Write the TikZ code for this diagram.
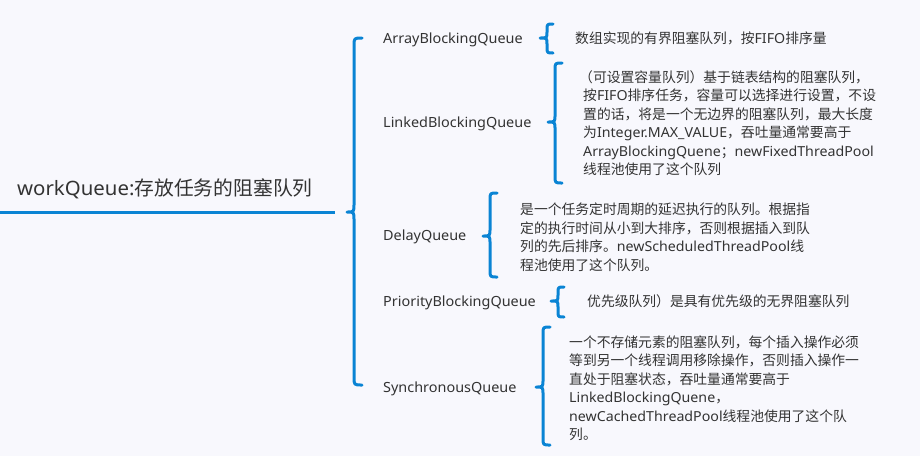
\documentclass[tikz,border=0pt]{standalone}
\usepackage{fontspec}
\setmainfont{Noto Sans CJK SC}
\newfontfamily\lat[FakeStretch=1.03]{Noto Sans}
\usetikzlibrary{calc}
\definecolor{bg}{HTML}{F8F8FD}
\definecolor{blu}{HTML}{0A84D4}
\definecolor{txt}{HTML}{333333}
\newcommand\qbrace[5]{%
  \draw[br] (#1+#5,#2) .. controls (#1,#2) .. (#1,#2+#5) -- (#1,#3-#5)
    .. controls (#1,#3) .. (#1-7,#3) .. controls (#1,#3) .. (#1,#3+#5)
    -- (#1,#4-#5) .. controls (#1,#4) .. (#1+#5,#4);}
\newcommand\lt[1]{{\lat #1}}
\tikzset{
  br/.style={draw=blu, line width=3pt, line cap=round, line join=round},
  lbl/.style={anchor=west, inner sep=0pt, text=txt, font=\lat\fontsize{14}{16}\selectfont},
  desc/.style={anchor=west, inner sep=0pt, text=txt, align=left, font=\fontsize{13.8}{18.5}\selectfont},
  ttl/.style={anchor=west, inner sep=0pt, text=txt, font=\fontsize{19.8}{24}\selectfont},
}
\begin{document}
\begin{tikzpicture}[x=1pt,y=-1pt]
\fill[bg] (0,0) rectangle (920,456);
\useasboundingbox (0,0) rectangle (920,456);
% root
\node[ttl] (root) at (17,189) {\lt{workQueue:}存放任务的阻塞队列};
\coordinate (ul) at (0,212);
\coordinate (ur) at (335,212);
\draw[br, line cap=butt] (ul) -- (ur);
\qbrace{354}{38}{212}{385}{8}
% children
\node[lbl] (c1) at (383,39.5) {ArrayBlockingQueue};
\node[lbl] (c2) at (383,123.5) {LinkedBlockingQueue};
\node[lbl] (c3) at (383,236.5) {DelayQueue};
\node[lbl] (c4) at (383,302.5) {PriorityBlockingQueue};
\node[lbl] (c5) at (383,388.5) {SynchronousQueue};
% second-level braces
\qbrace{547}{24}{38}{53}{6}
\qbrace{555}{63}{122}{183}{7}
\qbrace{490}{193}{236}{277}{7}
\qbrace{558}{287}{301}{317}{6}
\qbrace{543}{327}{387}{445}{7}
% descriptions
\node[desc] (d1) at (575,38.5) {数组实现的有界阻塞队列，按\lt{FIFO}排序量};
\node[desc] (d2) at (583,123) {\hspace*{-4pt}（可设置容量队列）基于链表结构的阻塞队列，\\
按\lt{FIFO}排序任务，容量可以选择进行设置，不设\\
置的话，将是一个无边界的阻塞队列，最大长度\\
为\lt{Integer.MAX\_VALUE}，吞吐量通常要高于\\
\lt{ArrayBlockingQuene}；\lt{newFixedThreadPool}\\
线程池使用了这个队列};
\node[desc] (d3) at (520,237) {是一个任务定时周期的延迟执行的队列。根据指\\
定的执行时间从小到大排序，否则根据插入到队\\
列的先后排序。\lt{newScheduledThreadPool}线\\
程池使用了这个队列。};
\node[desc] (d4) at (587,301.5) {优先级队列）是具有优先级的无界阻塞队列};
\node[desc] (d5) at (569,388) {一个不存储元素的阻塞队列，每个插入操作必须\\
等到另一个线程调用移除操作，否则插入操作一\\
直处于阻塞状态，吞吐量通常要高于\\
\lt{LinkedBlockingQuene}，\\
\lt{newCachedThreadPool}线程池使用了这个队\\
列。};
\end{tikzpicture}
\end{document}
